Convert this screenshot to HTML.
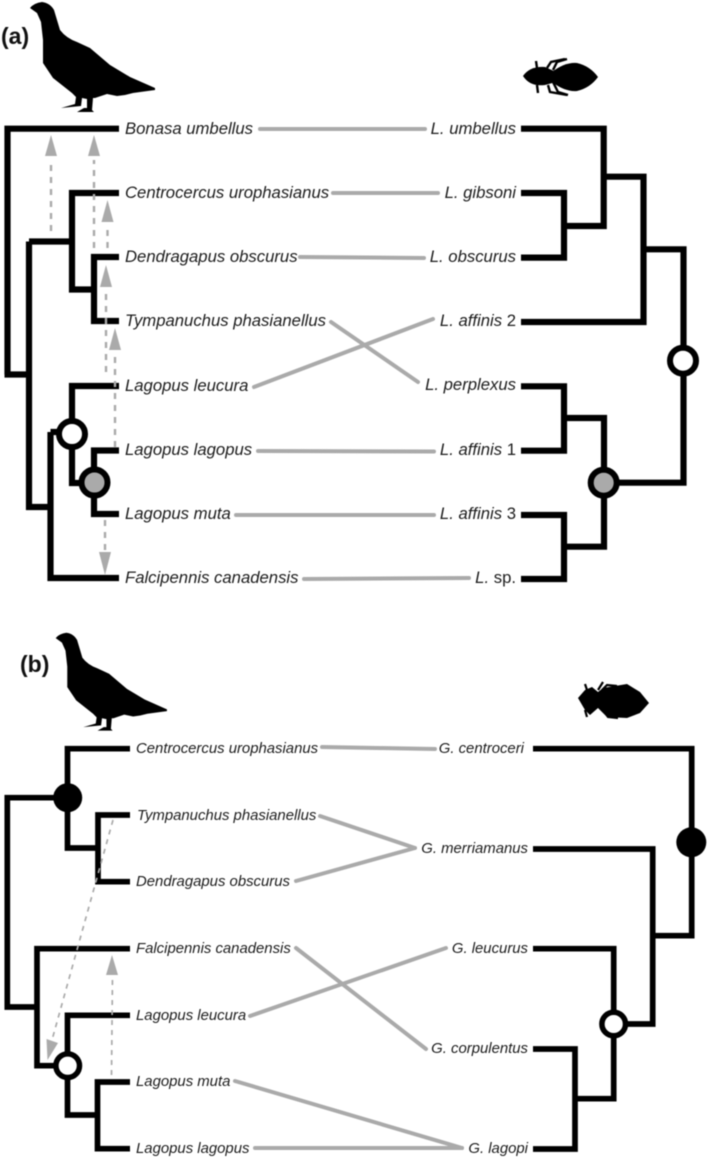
<!DOCTYPE html>
<html>
<head>
<meta charset="utf-8">
<style>
html,body{margin:0;padding:0;background:#fff;width:709px;height:1158px;overflow:hidden}
svg{display:block;filter:blur(0.4px)}
text{font-family:"Liberation Sans",sans-serif;fill:#1c1c1c}
.a text,.b text{font-style:italic}
.a text{font-size:16.7px}
.b text{font-size:14.9px}
.r{text-anchor:end}
.n{font-style:normal}
.t path{fill:none;stroke:#000;stroke-width:6.2;stroke-linejoin:miter;stroke-linecap:butt}
.tb path{stroke-width:5.7}
.g path{fill:none;stroke:#aaa;stroke-width:4;stroke-linecap:round}
.d path{fill:none;stroke:#aaa;stroke-width:2.4;stroke-dasharray:6 6}
.d2 path{stroke-width:1.7;stroke-dasharray:5 5}
.h polygon{fill:#aaa}
</style>
</head>
<body>
<svg width="709" height="1158" viewBox="0 0 709 1158" xmlns="http://www.w3.org/2000/svg">
<defs>
<path id="bird" fill="#000" d="M30,8 Q34,3 42,2 Q50,3 54,10 Q57,20 60,30 Q66,38 77,42 L90,48 L110,65 L130,77 L155,88 L155,90 L133,93 L125,95 L117,96 L107,94 L95,98 L93,98 L92,110 L94,112 L77,112 L84,108 L87,108 L87,99 L82,98 L81,106 L61,108 L75,104 L76,97 L72,93 L53,78 L43,63 L43,40 L41,22 L37,13 Z"/>
</defs>

<text x="1" y="44" style="font-size:23px;font-weight:bold;fill:#111">(a)</text>
<text x="20" y="672" style="font-size:23px;font-weight:bold;fill:#111">(b)</text>

<use href="#bird"/>
<use href="#bird" transform="translate(29 631) scale(.89)"/>

<!-- louse a -->
<g fill="#000">
<path d="M552,72 Q565,62 577,63 Q590,66 598,77 Q590,88 577,91 Q565,92 552,82 Z"/>
<path d="M523,76 Q530,66 545,67 L556,72 L556,82 L545,85 Q530,87 523,76 Z"/>
<g fill="none" stroke="#000" stroke-width="2.4">
<path d="M537,68 L536,61"/><path d="M537,85 L538,93"/>
<path d="M547,68 L551,62 L565,59"/><path d="M548,85 L550,92 L567,95"/>
<path d="M553,70 L557,62 L567,59"/><path d="M553,82 L558,92 L568,95"/>
</g>
</g>
<!-- louse b -->
<g fill="#000">
<path d="M578,698 L585,690 L592,687 L598,692 L603,688 L627,684 L640,692 L649,703 L640,713 L627,718 L607,717 L598,708 L590,715 L585,710 Z"/>
<g fill="none" stroke="#000" stroke-width="2.2">
<path d="M587,690 L585,684"/><path d="M585,710 L587,717"/>
<path d="M598,690 L603,682"/>
<path d="M602,690 L607,685 L617,686"/><path d="M603,710 L608,717 L618,718"/>
</g>
</g>

<!-- grey associations a -->
<g class="g">
<path d="M260,129 L425,129"/>
<path d="M333,193 L438,193"/>
<path d="M300,257 L424,258"/>
<path d="M331,322 L418,382"/>
<path d="M254,387 L433,319"/>
<path d="M258,451 L434,451.500"/>
<path d="M236,515 L434,515"/>
<path d="M304,579 L469,578"/>
<!-- b -->
<path d="M322,747 L435,749"/>
<path d="M320,816 L415,848"/>
<path d="M296,881 L415,848"/>
<path d="M296,948 L426,1049"/>
<path d="M250,1016 L446,948"/>
<path d="M235,1081 L462,1148"/>
<path d="M255,1148 L462,1148"/>
</g>

<!-- tree a left -->
<g class="t">
<path d="M119,128.700 H7.500 V374.500 M4.500,374.500 H30"/>
<path d="M29,374 V507 H50 M29,241.500 V374"/>
<path d="M29,241.500 H72 M119,193 H72 V289.500 H97 M119,257 H94 V321 H119"/>
<path d="M50.500,432 V578 H119 M50.500,432 H72 M119,386 H72 V483 H94 M119,450.500 H94 V514 H119"/>
</g>
<!-- tree a right -->
<g class="t">
<path d="M521,128.700 H603.700 V226 H564 M521,193 H564 V257.600 H521"/>
<path d="M604,176.700 H643.500 V322 H521 M643.500,249.300 H683.500 V482.700 H604"/>
<path d="M521,386.300 H564 V450.700 H521 M564,418 H604 V546.700 H564 M521,515 H564 V579 H521"/>
</g>
<circle cx="72" cy="434" r="13" fill="#fff" stroke="#000" stroke-width="6"/>
<circle cx="94.500" cy="482.500" r="13" fill="#aaa" stroke="#000" stroke-width="6"/>
<circle cx="683" cy="360.700" r="13" fill="#fff" stroke="#000" stroke-width="6"/>
<circle cx="603.700" cy="482.700" r="13" fill="#aaa" stroke="#000" stroke-width="6"/>

<!-- tree b left -->
<g class="t tb">
<path d="M130,748.700 H67.500 V848 H98 M130,815 H98 V881.700 H130"/>
<path d="M67.500,797.700 H7.300 V1007 H37"/>
<path d="M130,948.700 H37 V1065.700 H67.500"/>
<path d="M130,1015.300 H67.500 V1115 H97.500 M130,1082 H97.500 V1148.700 H130"/>
</g>
<!-- tree b right -->
<g class="t tb">
<path d="M533,748.700 H691.700 V935.700 H652.700"/>
<path d="M533,849 H652.700 V1024 H613.700"/>
<path d="M533,948.700 H613.700 V1098.700 H575"/>
<path d="M533,1049 H575 V1149 H533"/>
</g>
<circle cx="67.700" cy="797.700" r="14.500" fill="#000"/>
<circle cx="67.700" cy="1065.700" r="11.800" fill="#fff" stroke="#000" stroke-width="5.500"/>
<circle cx="691.300" cy="842.300" r="15" fill="#000"/>
<circle cx="613.700" cy="1024" r="11.800" fill="#fff" stroke="#000" stroke-width="5.500"/>

<!-- dashed transfer arrows a -->
<g class="d">
<path d="M51,231 V160"/>
<path d="M94,248 V160"/>
<path d="M107.500,248 V224"/>
<path d="M106,372 V290"/>
<path d="M115,447 V354"/>
<path d="M105,520 V552"/>
</g>
<g class="h">
<polygon points="51,135 45,156 57,156"/>
<polygon points="94,135 88,156 100,156"/>
<polygon points="107.500,200 101.500,222 113.500,222"/>
<polygon points="106,265 100,287 112,287"/>
<polygon points="115,328 109,350 121,350"/>
<polygon points="105,575 99,552 111,552"/>
</g>
<!-- dashed arrows b -->
<g class="d d2">
<path d="M113,820 L52,1040"/>
<path d="M111.500,1075 L112.500,975"/>
</g>
<g class="h">
<polygon points="47.500,1060 46.500,1039 58,1043"/>
<polygon points="112,955 106,975 118,975"/>
</g>

<!-- labels a -->
<g class="a">
<text x="125" y="134">Bonasa umbellus</text>
<text x="125" y="198">Centrocercus urophasianus</text>
<text x="125" y="262">Dendragapus obscurus</text>
<text x="125" y="326">Tympanuchus phasianellus</text>
<text x="125" y="391">Lagopus leucura</text>
<text x="125" y="455">Lagopus lagopus</text>
<text x="125" y="519">Lagopus muta</text>
<text x="125" y="583">Falcipennis canadensis</text>
<text class="r" x="516" y="134">L. umbellus</text>
<text class="r" x="516" y="198">L. gibsoni</text>
<text class="r" x="516" y="262">L. obscurus</text>
<text class="r" x="516" y="326">L. affinis <tspan class="n">2</tspan></text>
<text class="r" x="516" y="390">L. perplexus</text>
<text class="r" x="516" y="455">L. affinis <tspan class="n">1</tspan></text>
<text class="r" x="516" y="519">L. affinis <tspan class="n">3</tspan></text>
<text class="r" x="516" y="583">L.<tspan class="n"> sp.</tspan></text>
</g>

<!-- labels b -->
<g class="b">
<text x="136" y="753">Centrocercus urophasianus</text>
<text x="137" y="820">Tympanuchus phasianellus</text>
<text x="136" y="886">Dendragapus obscurus</text>
<text x="136" y="953">Falcipennis canadensis</text>
<text x="136" y="1020">Lagopus leucura</text>
<text x="136" y="1086">Lagopus muta</text>
<text x="136" y="1153">Lagopus lagopus</text>
<text class="r" x="524" y="753">G. centroceri</text>
<text class="r" x="528" y="853">G. merriamanus</text>
<text class="r" x="528" y="953">G. leucurus</text>
<text class="r" x="528" y="1053">G. corpulentus</text>
<text class="r" x="528" y="1153">G. lagopi</text>
</g>
</svg>
</body>
</html>
